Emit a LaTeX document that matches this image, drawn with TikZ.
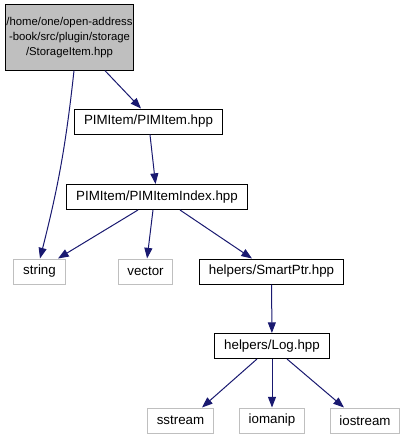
\documentclass[tikz,border=0pt]{standalone}
\usepackage{fontspec}
\setmainfont{Liberation Sans}
\usepackage{tikz}
\usetikzlibrary{arrows.meta}
\usetikzlibrary{positioning}

\definecolor{edgeblue}{HTML}{191970}
\definecolor{sysgray}{HTML}{BFBFBF}

\tikzset{
	filebox/.style={draw=black, fill=white, line width=0.75pt, minimum height=18.75pt, inner xsep=7pt, inner ysep=1pt, font=\fontsize{10}{11.5}\selectfont},
	sysbox/.style={filebox, draw=sysgray},
	rootbox/.style={filebox, fill=sysgray, align=center, minimum width=95pt, minimum height=49pt, inner xsep=1pt, font=\fontsize{8.5}{11.5}\selectfont},
	incl/.style={draw=edgeblue, line width=0.75pt, -{Triangle[length=8pt,width=6pt]}}
}

\begin{document}
\begin{tikzpicture}[x=0.75pt, y=-0.75pt]
		\useasboundingbox (0,0) rectangle (407,440);
		% headers
		\node[rootbox] (root) at (69.5,37.5) {/home/one/open-address\\-book/src/plugin/storage\\/StorageItem.hpp};
		\node[filebox] (pimitem) at (148.5,121.5) {PIMItem/PIMItem.hpp};
		\node[filebox] (pimindex) at (157,197) {PIMItem/PIMItemIndex.hpp};
		\node[sysbox] (string) at (39.5,271.5) {string};
		\node[sysbox] (vector) at (145.5,271.5) {vector};
		\node[filebox] (smartptr) at (271.5,271.5) {helpers/SmartPtr.hpp};
		\node[filebox] (log) at (272,346) {helpers/Log.hpp};
		\node[sysbox] (sstream) at (180.5,420.5) {sstream};
		\node[sysbox] (iomanip) at (272,420.5) {iomanip};
		\node[sysbox] (iostream) at (365,420.5) {iostream};
		% includes
		\draw[incl] (root.south -| 74,0) to[bend left=4] (string.north -| 40,0);
		\draw[incl] (root.south -| 105,0) -- (pimitem.north -| 141,0);
		\draw[incl] (pimitem) -- (pimindex);
		\draw[incl] (pimindex.south -| 138,0) -- (string.north -| 58,0);
		\draw[incl] (pimindex.south -| 153,0) -- (vector);
		\draw[incl] (pimindex.south -| 180,0) -- (smartptr.north -| 252,0);
		\draw[incl] (smartptr) -- (log);
		\draw[incl] (log.south -| 257,0) -- (sstream.north -| 202,0);
		\draw[incl] (log) -- (iomanip);
		\draw[incl] (log.south -| 287,0) -- (iostream.north -| 344,0);
	\end{tikzpicture}
\end{document}
